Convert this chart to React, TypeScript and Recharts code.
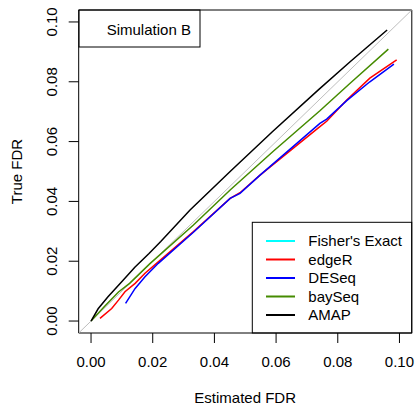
import React from "react";
import {
  Customized,
  Line,
  LineChart,
  ReferenceArea,
  XAxis,
  YAxis,
} from "recharts";

// estimated FDR (x) vs true FDR (y)
const amapX = [0, 0.0023, 0.0055, 0.0098, 0.0142, 0.0188, 0.0226, 0.0321, 0.0451, 0.0587, 0.0737, 0.084, 0.096];
const amapY = [0, 0.0041, 0.0081, 0.013, 0.018, 0.0226, 0.0266, 0.0371, 0.05, 0.0632, 0.0773, 0.0867, 0.0973];

const baySeqX = [0, 0.0045, 0.0089, 0.0125, 0.0191, 0.0332, 0.0451, 0.059, 0.0742, 0.084, 0.0964];
const baySeqY = [0, 0.005, 0.0097, 0.0126, 0.0192, 0.0321, 0.0438, 0.0567, 0.0703, 0.0795, 0.0909];

const edgeRX = [0.0029, 0.0067, 0.0089, 0.011, 0.0143, 0.0175, 0.0218, 0.0332, 0.0451, 0.0483, 0.0548, 0.0742, 0.0764, 0.0829, 0.0904, 0.0991];
const edgeRY = [0.0009, 0.0042, 0.007, 0.0098, 0.0126, 0.016, 0.0198, 0.0299, 0.041, 0.0429, 0.0488, 0.065, 0.0668, 0.0739, 0.0812, 0.0873];

const deseqX = [0.0112, 0.0143, 0.0175, 0.0218, 0.0332, 0.0451, 0.0483, 0.0548, 0.0742, 0.0764, 0.0829, 0.0904, 0.0982];
const deseqY = [0.0059, 0.0109, 0.0148, 0.0193, 0.0297, 0.041, 0.0427, 0.0488, 0.0661, 0.0675, 0.0737, 0.08, 0.0859];

const fisherX: number[] = [];
const fisherY: number[] = [];

const axisMin = -0.004;
const axisMax = 0.104;
const ticks = [0, 0.02, 0.04, 0.06, 0.08, 0.1];

const seriesNames = ["Fisher's Exact", "edgeR", "DESeq", "baySeq", "AMAP"];
const seriesColors = ["#00ffff", "#ff0000", "#0000ff", "#458b00", "#000000"];

const zip = (xs: number[], ys: number[]) => xs.map((x, i) => ({ x, y: ys[i] }));

const series = [
  zip(fisherX, fisherY),
  zip(edgeRX, edgeRY),
  zip(deseqX, deseqY),
  zip(baySeqX, baySeqY),
  zip(amapX, amapY),
];

const diagonal = zip([axisMin, axisMax], [axisMin, axisMax]);

const font = "'Liberation Sans', Arial, Helvetica, sans-serif";

const YTick = (props: any) => {
  const { x, y, payload } = props;
  return (
    <text
      x={x}
      y={y}
      transform={`rotate(-90, ${x}, ${y})`}
      textAnchor="middle"
      fontSize={15}
      fontFamily={font}
      fill="#000"
    >
      {payload.value.toFixed(2)}
    </text>
  );
};

const XTick = (props: any) => {
  const { x, y, payload } = props;
  return (
    <text x={x} y={y + 10.7} textAnchor="middle" fontSize={15} fontFamily={font} fill="#000">
      {payload.value.toFixed(2)}
    </text>
  );
};

const Annotations = () => (
  <g fontFamily={font} fontSize={15} fill="#000">
    {/* title box */}
    <rect x={79} y={10} width={121} height={37} fill="#fff" stroke="#000" strokeWidth={1} />
    <text x={106.7} y={34.5}>Simulation B</text>

    {/* legend */}
    <rect x={252.3} y={222.3} width={159.4} height={110.7} fill="#fff" stroke="#000" strokeWidth={1} />
    {seriesNames.map((name, i) => {
      const yy = 241 + i * 18.5;
      return (
        <g key={name}>
          <line x1={266} x2={295} y1={yy} y2={yy} stroke={seriesColors[i]} strokeWidth={2} />
          <text x={308.3} y={yy + 5.3}>{name}</text>
        </g>
      );
    })}

    {/* axis titles */}
    <text x={245.2} y={403} textAnchor="middle">Estimated FDR</text>
    <text x={21.5} y={171.5} textAnchor="middle" transform="rotate(-90, 21.5, 171.5)">
      True FDR
    </text>
  </g>
);

export default function App() {
  return (
    <div style={{ position: "absolute", left: 0, top: 0, background: "#fff" }}>
      <LineChart
        width={415}
        height={405}
        margin={{ top: 10, right: 3.2, bottom: 0, left: 0 }}
      >
        <XAxis
          type="number"
          dataKey="x"
          domain={[axisMin, axisMax]}
          allowDataOverflow
          ticks={ticks}
          axisLine={false}
          tickLine={{ stroke: "#000" }}
          tickSize={10}
          tickMargin={13.7}
          tick={<XTick />}
          height={72}
        />
        <YAxis
          type="number"
          dataKey="y"
          domain={[axisMin, axisMax]}
          allowDataOverflow
          ticks={ticks}
          axisLine={false}
          tickLine={{ stroke: "#000" }}
          tickSize={10}
          tickMargin={11.4}
          tick={<YTick />}
          width={78.7}
        />
        <Line
          data={diagonal}
          dataKey="y"
          stroke="#bebebe"
          strokeWidth={1}
          dot={false}
          activeDot={false}
          isAnimationActive={false}
          legendType="none"
        />
        {series.map((d, i) => (
          <Line
            key={seriesNames[i]}
            data={d}
            dataKey="y"
            name={seriesNames[i]}
            stroke={seriesColors[i]}
            strokeWidth={1.5}
            dot={false}
            activeDot={false}
            type="linear"
            isAnimationActive={false}
          />
        ))}
        <ReferenceArea
          x1={axisMin}
          x2={axisMax}
          y1={axisMin}
          y2={axisMax}
          fill="none"
          fillOpacity={0}
          stroke="#000"
          strokeWidth={1}
        />
        <Customized component={Annotations} />
      </LineChart>
    </div>
  );
}
